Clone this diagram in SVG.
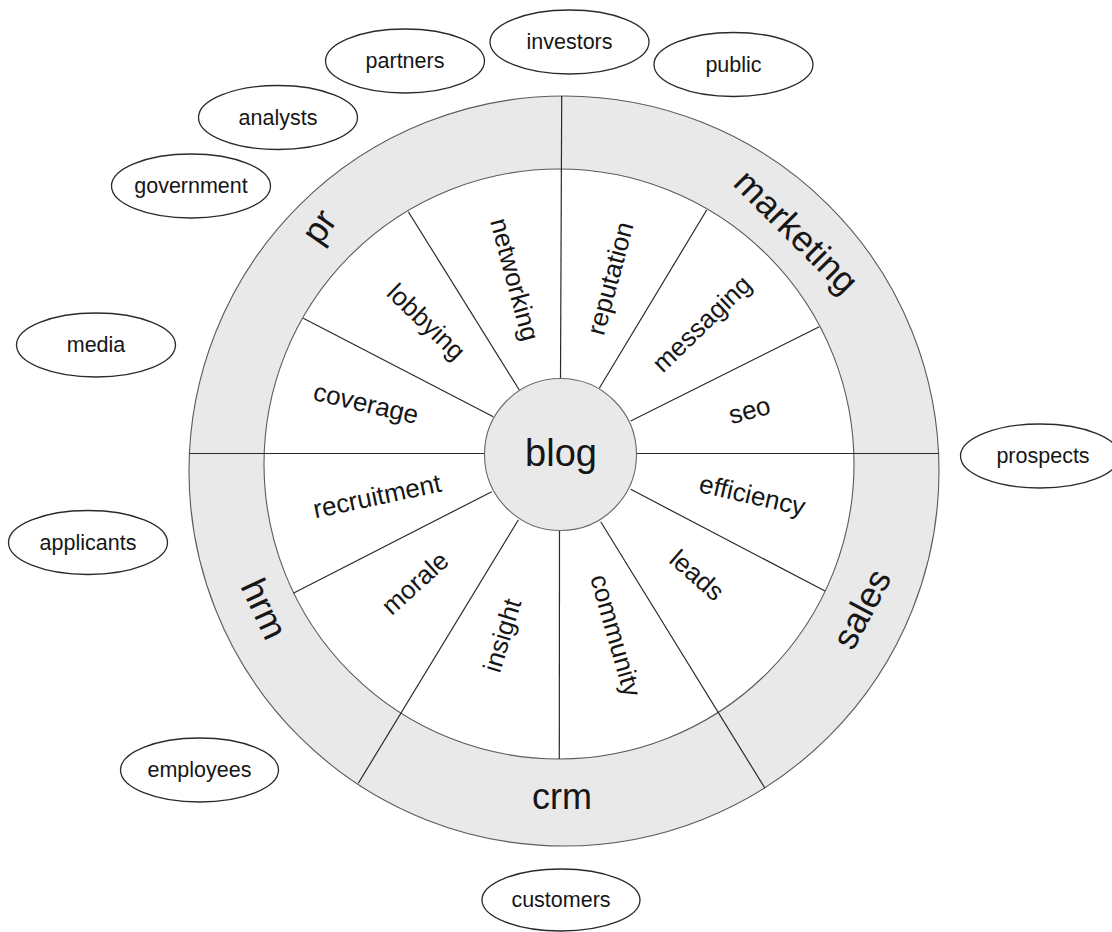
<svg xmlns="http://www.w3.org/2000/svg" width="1112" height="932" viewBox="0 0 1112 932">
  <style>
    text { font-family: "Liberation Sans", Arial, Helvetica, sans-serif; fill: #161616; text-anchor: middle; }
    .ring { fill: #e9e9e9; stroke: #5a5a5a; stroke-width: 1.1; }
    .field { fill: #ffffff; stroke: #5a5a5a; stroke-width: 1.1; }
    .hub { fill: #e9e9e9; stroke: #6a6a6a; stroke-width: 1.1; }
    .spoke { stroke: #2a2a2a; stroke-width: 1.2; fill: none; }
    .party ellipse { fill: #ffffff; stroke: #2a2a2a; stroke-width: 1.3; }
    .party text { font-size: 21.5px; }
    .band text { font-size: 36px; }
    .sector text { font-size: 26px; }
    .hub-label { font-size: 38px; }
  </style>

  <!-- outer band ring and white inner field -->
  <g id="wheel">
    <circle class="ring" cx="564" cy="471" r="375"/>
    <circle class="field" cx="559" cy="464" r="295"/>
  </g>

  <!-- spokes: band dividers run to the outer rim, sector dividers stop at the inner rim -->
  <g id="connectors">
    <line class="spoke" x1="560.5" y1="378.5" x2="561.7" y2="96"/>
    <line class="spoke" x1="559.5" y1="530.5" x2="559.3" y2="759"/>
    <line class="spoke" x1="189.5" y1="453.5" x2="484.8" y2="453.5"/>
    <line class="spoke" x1="636.3" y1="453.5" x2="938.8" y2="453.5"/>
    <line class="spoke" x1="303.3" y1="318.3" x2="493.3" y2="416.7"/>
    <line class="spoke" x1="408.3" y1="211.7" x2="519.3" y2="390"/>
    <line class="spoke" x1="706.7" y1="210" x2="599.3" y2="388.3"/>
    <line class="spoke" x1="819.3" y1="326.7" x2="630.7" y2="421"/>
    <line class="spoke" x1="630.7" y1="489.3" x2="825" y2="591"/>
    <line class="spoke" x1="600.7" y1="521.7" x2="765" y2="788.3"/>
    <line class="spoke" x1="518.3" y1="520" x2="358.3" y2="783.3"/>
    <line class="spoke" x1="491.7" y1="491.7" x2="293.3" y2="593.3"/>
  </g>

  <g id="blog">
    <circle class="hub" cx="560.5" cy="454.5" r="76"/>
    <text class="hub-label" x="561" y="466">blog</text>
  </g>

  <!-- band labels -->
  <g class="band">
    <g id="band-pr"><text transform="translate(324,230) rotate(-55)" y="6">pr</text></g>
    <g id="band-marketing"><text transform="translate(794,234) rotate(45)" y="9">marketing</text></g>
    <g id="band-sales"><text transform="translate(862,609) rotate(-62)" y="12">sales</text></g>
    <g id="band-crm"><text x="562" y="809">crm</text></g>
    <g id="band-hrm"><text transform="translate(264,609) rotate(65)" y="12">hrm</text></g>
  </g>

  <!-- sector labels -->
  <g class="sector">
    <g id="sector-coverage"><text transform="translate(365,408) rotate(13)" y="4">coverage</text></g>
    <g id="sector-lobbying"><text transform="translate(425,323) rotate(44)" y="7">lobbying</text></g>
    <g id="sector-networking"><text transform="translate(513,280) rotate(75)" y="7">networking</text></g>
    <g id="sector-reputation"><text transform="translate(613,279) rotate(-75)" y="6">reputation</text></g>
    <g id="sector-messaging"><text transform="translate(703,325) rotate(-44)" y="7">messaging</text></g>
    <g id="sector-seo"><text transform="translate(750,412) rotate(-15)" y="7">seo</text></g>
    <g id="sector-efficiency"><text transform="translate(752,497) rotate(13)" y="7">efficiency</text></g>
    <g id="sector-leads"><text transform="translate(697,575) rotate(41)" y="9">leads</text></g>
    <g id="sector-community"><text transform="translate(614,636) rotate(74)" y="7">community</text></g>
    <g id="sector-insight"><text transform="translate(504,636) rotate(-73)" y="7">insight</text></g>
    <g id="sector-morale"><text transform="translate(415,583) rotate(-42)" y="9">morale</text></g>
    <g id="sector-recruitment"><text transform="translate(377,496) rotate(-12)" y="9">recruitment</text></g>
  </g>

  <!-- stakeholders around the wheel -->
  <g class="party">
    <g id="node-investors"><ellipse cx="569.5" cy="42" rx="79.5" ry="32"/><text x="569.5" y="49">investors</text></g>
    <g id="node-partners"><ellipse cx="405" cy="61" rx="79.5" ry="32"/><text x="405" y="68">partners</text></g>
    <g id="node-public"><ellipse cx="733.5" cy="64.5" rx="79.5" ry="32"/><text x="733.5" y="72">public</text></g>
    <g id="node-analysts"><ellipse cx="278" cy="117.5" rx="79.5" ry="32"/><text x="278" y="125">analysts</text></g>
    <g id="node-government"><ellipse cx="191" cy="186" rx="79.5" ry="32"/><text x="191" y="193">government</text></g>
    <g id="node-media"><ellipse cx="96" cy="345" rx="79.5" ry="32"/><text x="96" y="352">media</text></g>
    <g id="node-prospects"><ellipse cx="1040" cy="456" rx="79.5" ry="32"/><text x="1043" y="463">prospects</text></g>
    <g id="node-applicants"><ellipse cx="88" cy="542.5" rx="79.5" ry="32"/><text x="88" y="550">applicants</text></g>
    <g id="node-employees"><ellipse cx="199.5" cy="770" rx="79" ry="32"/><text x="199.5" y="777">employees</text></g>
    <g id="node-customers"><ellipse cx="561" cy="900" rx="79" ry="31"/><text x="561" y="907">customers</text></g>
  </g>
</svg>
